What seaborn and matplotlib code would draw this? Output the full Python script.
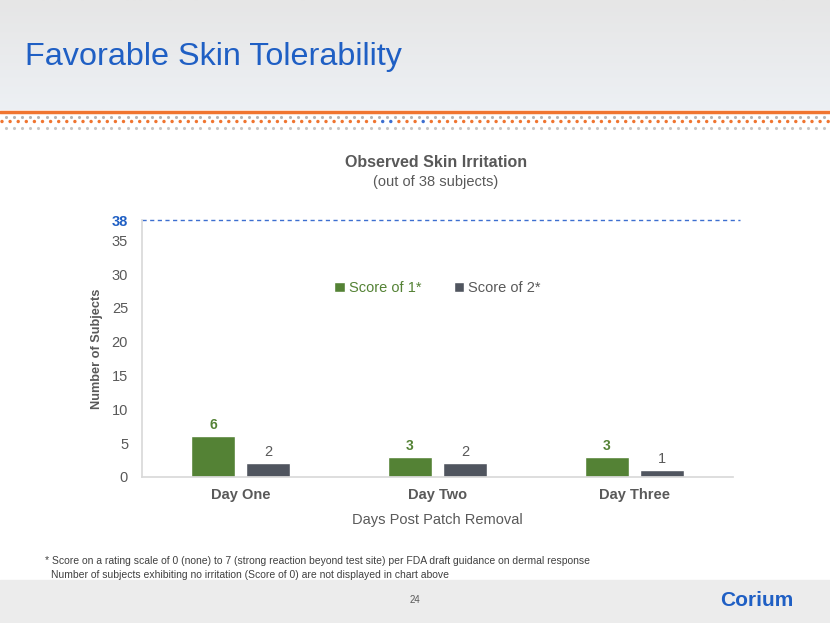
import numpy as np
import pandas as pd
import seaborn as sns
import matplotlib.pyplot as plt

# chart values
days = ["Day One", "Day Two", "Day Three"]
score1 = [6, 3, 3]
score2 = [2, 2, 1]
score_names = ["Score of 1*", "Score of 2*"]
total_subjects = 38
yticks = [0, 5, 10, 15, 20, 25, 30, 35]

green = "#548235"
slate = "#50555f"
txt = "#595959"
blue = "#1f5fc4"

sns.set_theme(style="white")
plt.rcParams['font.family'] = ['Liberation Sans', 'DejaVu Sans']

df = pd.DataFrame({
    "day": days * 2,
    "count": score1 + score2,
    "score": [score_names[0]] * 3 + [score_names[1]] * 3,
})

fig = plt.figure(figsize=(8.3, 6.23), dpi=100)
fig.patch.set_facecolor("white")

# slide background: header band, dotted rule, footer band
bg = fig.add_axes([0, 0, 1, 1], zorder=-10)
bg.set_xlim(0, 830)
bg.set_ylim(623, 0)
bg.axis("off")
grad = np.linspace(0, 1, 100).reshape(-1, 1)
bg.imshow(grad, extent=[0, 830, 110, 0], aspect="auto",
          cmap=sns.blend_palette(["#e6e6e6", "#edf0f4"], as_cmap=True))
bg.fill_between([0, 830], 580, 623, color="#ececec")
bg.plot([0, 830], [112, 112], color="#f07530", lw=2.5)
xs = np.arange(2, 830, 8.1)
bg.scatter(xs + 4, np.full_like(xs, 116.7), s=5, color="#b5b5b5", lw=0)
orange_cols = ["#3d6fd0" if abs(x - 379) < 4 or abs(x - 394) < 4 or abs(x - 425) < 4 else "#f07530" for x in xs]
bg.scatter(xs, np.full_like(xs, 121.5), s=6, color=orange_cols, lw=0)
bg.scatter(xs + 4, np.full_like(xs, 127.7), s=5, color="#c5c5c5", lw=0)

fig.text(25 / 830, 1 - 57 / 623, "Favorable Skin Tolerability", fontsize=23.3,
         color=blue, va="center", ha="left")
fig.text(436 / 830, 1 - 163 / 623, "Observed Skin Irritation", fontsize=11.5,
         color=txt, fontweight="bold", ha="center", va="center")
fig.text(436 / 830, 1 - 182 / 623, "(out of 38 subjects)", fontsize=10.5,
         color=txt, ha="center", va="center")

ax = fig.add_axes([142 / 830, 1 - 477 / 623, 591 / 830, 257 / 623])
sns.barplot(data=df, x="day", y="count", hue="score", palette=[green, slate],
            width=0.56, gap=0.2, ax=ax, saturation=1)

ax.bar_label(ax.containers[0], color=green, fontweight="bold", fontsize=10, padding=3)
ax.bar_label(ax.containers[1], color=txt, fontsize=10.5, padding=3)

ax.axhline(total_subjects, color="#3d6fd0", ls=(0, (3, 2.5)), lw=1, clip_on=False,
           xmax=(740 - 142) / 591)
ax.set_ylim(0, total_subjects)
ax.set_yticks(yticks + [total_subjects])
ax.set_yticklabels([str(t) for t in yticks] + [str(total_subjects)])
for lab in ax.get_yticklabels():
    lab.set_color(txt)
    lab.set_fontsize(10.5)
ax.get_yticklabels()[-1].set_color(blue)
ax.get_yticklabels()[-1].set_fontweight("bold")
ax.tick_params(axis="x", labelsize=10.5, labelcolor=txt, length=0, pad=8)
ax.tick_params(axis="y", length=0, pad=10)
for lab in ax.get_xticklabels():
    lab.set_fontweight("bold")

ax.set_xlabel("Days Post Patch Removal", fontsize=10.5, color=txt, labelpad=8)
ax.set_ylabel("Number of Subjects", fontsize=9.2, color=txt, fontweight="bold", labelpad=6)
ax.set_facecolor("none")
for s in ["top", "right"]:
    ax.spines[s].set_visible(False)
ax.spines["left"].set_color("#d9d9d9")
ax.spines["bottom"].set_color("#d9d9d9")

leg = ax.legend(loc="center", bbox_to_anchor=(0.5, 0.735), ncol=2, frameon=False,
                fontsize=10.5, handlelength=0.7, handleheight=0.7, handletextpad=0.3,
                columnspacing=2.2)
leg.get_texts()[0].set_color(green)
leg.get_texts()[1].set_color(txt)

fig.text(45 / 830, 1 - 561 / 623,
         "* Score on a rating scale of 0 (none) to 7 (strong reaction beyond test site) per FDA draft guidance on dermal response",
         fontsize=7.5, color="#404040", va="center")
fig.text(51 / 830, 1 - 575 / 623,
         "Number of subjects exhibiting no irritation (Score of 0) are not displayed in chart above",
         fontsize=7.5, color="#404040", va="center")
fig.text(415 / 830, 1 - 600 / 623, "24", fontsize=7, color="#595959", ha="center", va="center")
fig.text(757 / 830, 1 - 600 / 623, "Corium", fontsize=15, color="#1f5fc4",
         fontweight="bold", ha="center", va="center")

fig.savefig("out.png", dpi=100)
